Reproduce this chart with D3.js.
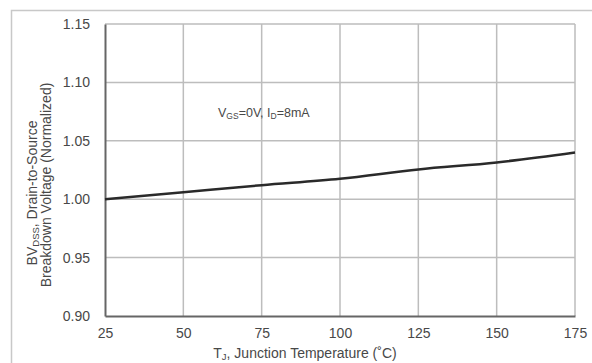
<!DOCTYPE html>
<html>
<head>
<meta charset="utf-8">
<script src="https://cdn.jsdelivr.net/npm/d3@7/dist/d3.min.js"></script>
<style>
  html, body { margin: 0; padding: 0; background: #fff; }
  svg { display: block; font-family: "Liberation Sans", Arial, sans-serif; }
</style>
</head>
<body>
<svg id="chart" width="592" height="363"></svg>
<script>
// Normalized drain-to-source breakdown voltage vs. junction temperature
const temperatures = [25, 50, 75, 100, 125, 150, 175];
const bvNormalized = [1.000, 1.006, 1.012, 1.0175, 1.0255, 1.0315, 1.040];
const xTicks = [25, 50, 75, 100, 125, 150, 175];
const yTicks = [0.90, 0.95, 1.00, 1.05, 1.10, 1.15];

const svg = d3.select("#chart");
const margin = { left: 105, right: 17, top: 24, bottom: 47 };
const W = 592, H = 363;
const textColor = "#484848";

const x = d3.scaleLinear().domain([25, 175]).range([margin.left, W - margin.right]);
const y = d3.scaleLinear().domain([0.90, 1.15]).range([H - margin.bottom, margin.top]);

// outer frame
svg.append("rect")
  .attr("x", 11.5).attr("y", 10.5)
  .attr("width", 600).attr("height", 400)
  .attr("fill", "none").attr("stroke", "#c8c8c8").attr("stroke-width", 1.5);

// grid
const grid = svg.append("g").attr("stroke", "#bdbdbd").attr("stroke-width", 1.5);
grid.selectAll(".gx").data(xTicks.slice(1)).join("line")
  .attr("x1", d => x(d)).attr("x2", d => x(d))
  .attr("y1", y(0.90)).attr("y2", y(1.15));
grid.selectAll(".gy").data(yTicks.slice(1)).join("line")
  .attr("x1", x(25)).attr("x2", x(175))
  .attr("y1", d => y(d)).attr("y2", d => y(d));

// axes
const xAxis = d3.axisBottom(x).tickValues(xTicks).tickSize(0).tickPadding(0)
  .tickFormat(d3.format("d"));
const yAxis = d3.axisLeft(y).tickValues(yTicks).tickSize(0).tickPadding(15)
  .tickFormat(d3.format(".2f"));

const gx = svg.append("g").attr("transform", `translate(0,${y(0.90)})`).call(xAxis);
const gy = svg.append("g").attr("transform", `translate(${x(25)},0)`).call(yAxis);
[gx, gy].forEach(g => {
  g.select(".domain").attr("stroke", "#666").attr("stroke-width", 2);
  g.selectAll(".tick text").attr("fill", textColor).attr("font-size", 14)
    .attr("font-family", "Liberation Sans, Arial, sans-serif");
});
gx.selectAll(".tick text").attr("y", 22).attr("dy", 0);

// data curve
const line = d3.line().x((d, i) => x(temperatures[i])).y(d => y(d)).curve(d3.curveMonotoneX);
svg.append("path").datum(bvNormalized)
  .attr("d", line).attr("fill", "none")
  .attr("stroke", "#2a2a2a").attr("stroke-width", 2.5);

// condition label
const cond = svg.append("text").attr("x", 218).attr("y", 117)
  .attr("font-size", 12.5).attr("fill", textColor);
cond.append("tspan").text("V");
cond.append("tspan").attr("font-size", 8.5).attr("dy", 2).text("GS");
cond.append("tspan").attr("dy", -2).text("=0V, I");
cond.append("tspan").attr("font-size", 8.5).attr("dy", 2).text("D");
cond.append("tspan").attr("dy", -2).text("=8mA");

// x-axis title
const xt = svg.append("text").attr("x", 305).attr("y", 358)
  .attr("text-anchor", "middle").attr("font-size", 14).attr("fill", textColor);
xt.append("tspan").text("T");
xt.append("tspan").attr("font-size", 9.5).attr("dy", 2).text("J");
xt.append("tspan").attr("dy", -2).text(", Junction Temperature (˚C)");

// y-axis title (two lines)
const yt1 = svg.append("text").attr("transform", "translate(37,193) rotate(-90)")
  .attr("text-anchor", "middle").attr("font-size", 14).attr("fill", textColor);
yt1.append("tspan").text("BV");
yt1.append("tspan").attr("font-size", 9.5).attr("dy", 2).text("DSS");
yt1.append("tspan").attr("dy", -2).text(", Drain-to-Source");
svg.append("text").attr("transform", "translate(51,185) rotate(-90)")
  .attr("text-anchor", "middle").attr("font-size", 14).attr("fill", textColor)
  .text("Breakdown Voltage (Normalized)");
</script>
</body>
</html>
